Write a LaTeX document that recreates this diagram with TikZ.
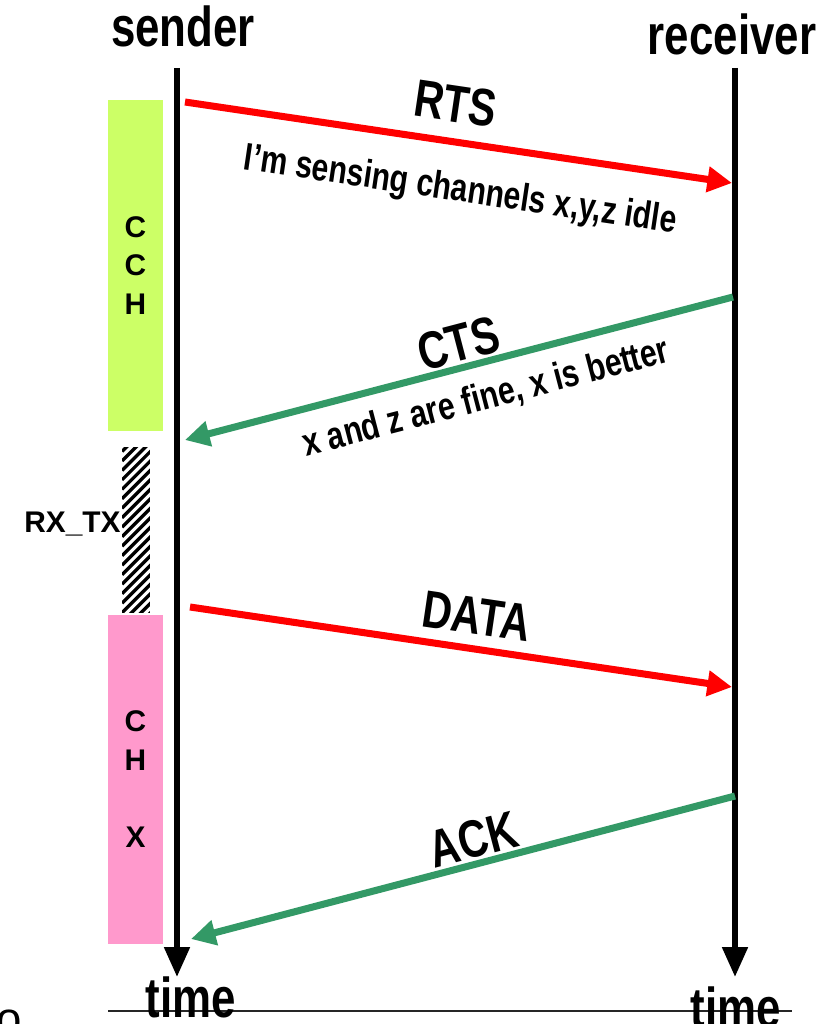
\documentclass[tikz,border=0pt]{standalone}
\usepackage{fontspec}
\setmainfont{Liberation Sans}
\newfontfamily\narrow[FakeStretch=0.78]{Liberation Sans}
\usetikzlibrary{arrows.meta}
\definecolor{rtsred}{RGB}{255,0,0}
\definecolor{ctsgreen}{RGB}{51,153,102}
\definecolor{cchgreen}{RGB}{204,255,102}
\definecolor{chpink}{RGB}{255,153,204}

\begin{document}
\begin{tikzpicture}[
  x=0.02cm,y=-0.02cm,
  party/.style={font=\narrow\bfseries\fontsize{32}{32}\selectfont,anchor=base,inner sep=0pt},
  life/.style={line width=3.4pt,-{Triangle[length=17pt,width=14pt]}},
  fwd/.style={draw=rtsred,line width=4pt,-{Triangle[length=14pt,width=14pt]}},
  bwd/.style={draw=ctsgreen,line width=4pt,-{Triangle[length=14pt,width=14pt]}},
  msg/.style={font=\narrow\bfseries\fontsize{30}{30}\selectfont,sloped,outer sep=0pt,text=black},
  note/.style={font=\narrow\bfseries\fontsize{22}{22}\selectfont,sloped,outer sep=0pt,text=black},
  chan/.style={font=\bfseries\fontsize{17}{22}\selectfont,align=center,inner sep=0pt},
  chanbox/.style={chan,minimum width=31.2pt}
]
\useasboundingbox (0,0) rectangle (833,1024);

% lifelines
\coordinate (snd-top) at (177,68);
\coordinate (snd-end) at (177,977);
\coordinate (rcv-top) at (735,68);
\coordinate (rcv-end) at (735,977);
\node[party] (snd) at (183,47) {sender};
\node[party] (rcv) at (732,55) {receiver};
\draw[life] (snd-top) -- (snd-end);
\draw[life] (rcv-top) -- (rcv-end);

% channel phases of the sender
\node[chanbox,fill=cchgreen,minimum height=188.8pt] (cch) at (135.5,265.5) {C\\C\\H};
\node[chanbox,fill=chpink,minimum height=187.6pt] (chx) at (135.5,779.5) {C\\H\\[22pt]X};
\node[minimum width=15.9pt,minimum height=94.1pt,inner sep=0pt,
  path picture={\foreach \k in {-3,...,18}
    \draw[line width=1.9pt] ([yshift=\k*5.4pt]path picture bounding box.south west) -- ++(40,-40);}]
  (rxtx) at (136,530) {};
\node[chan,anchor=east] (rxtxlbl) at (121,524) {RX\_TX};

% messages
\coordinate (rts-a) at (185,102);
\coordinate (rts-b) at (732,183);
\coordinate (cts-a) at (733,297);
\coordinate (cts-b) at (185,440);
\coordinate (data-a) at (190,607);
\coordinate (data-b) at (732,687);
\coordinate (ack-a) at (735,796);
\coordinate (ack-b) at (191,939);
\draw[fwd] (rts-a) -- node[msg,pos=0.485,above=7.5pt]{RTS}
  node[note,pos=0.516,below=13.8pt]{I’m sensing channels x,y,z idle} (rts-b);
\draw[bwd] (cts-a) -- node[msg,pos=0.49,above=0pt]{CTS}
  node[note,pos=0.467,below=7.3pt]{x and z are fine, x is better} (cts-b);
\draw[fwd] (data-a) -- node[msg,pos=0.52,above=5pt]{DATA} (data-b);
\draw[bwd] (ack-a) -- node[msg,pos=0.47,above=0pt]{ACK} (ack-b);

% time axis
\coordinate (axis-l) at (108,1011);
\coordinate (axis-r) at (792,1011);
\draw[line width=1.6pt,black!85] (axis-l) -- (axis-r);
\node[party] (tsnd) at (191,1017) {time};
\node[party] (trcv) at (736,1027) {time};
\node[font=\fontsize{26}{26}\selectfont,anchor=base,inner sep=0pt] (cut) at (9,1034) {o};
\end{tikzpicture}
\end{document}
